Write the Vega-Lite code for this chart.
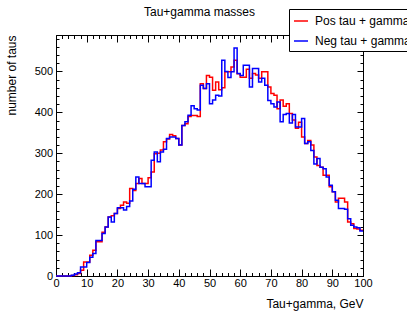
{
 "$schema": "https://vega.github.io/schema/vega-lite/v6.json",
 "width": 307,
 "height": 241,
 "autosize": {"type": "none"},
 "padding": {"left": 56, "top": 35, "right": 44, "bottom": 38},
 "title": {"text": "Tau+gamma masses", "fontSize": 12, "font": "Liberation Sans", "fontWeight": "normal", "anchor": "middle", "dx": -10, "dy": 11, "offset": -8, "baseline": "alphabetic", "color": "black"},
 "config": {
  "view": {"stroke": "black", "strokeWidth": 1},
  "font": "Liberation Sans",
  "axis": {"domain": false, "tickColor": "black", "tickWidth": 1, "labelColor": "black", "labelFontSize": 11, "titleFontSize": 12, "titleFontWeight": "normal", "titleColor": "black", "grid": false, "labelFlush": false, "labelOverlap": false, "labelFont": "Liberation Sans", "titleFont": "Liberation Sans"}
 },
 "data": {"values": [
  {"x":0,"pos":0,"neg":0},{"x":1,"pos":0,"neg":0},{"x":2,"pos":0,"neg":0},{"x":3,"pos":0,"neg":0},{"x":4,"pos":0,"neg":0},
  {"x":5,"pos":1,"neg":2},{"x":6,"pos":3,"neg":5},{"x":7,"pos":6,"neg":8},{"x":8,"pos":14,"neg":22},{"x":9,"pos":34,"neg":22},
  {"x":10,"pos":34,"neg":33},{"x":11,"pos":51,"neg":46},{"x":12,"pos":63,"neg":55},{"x":13,"pos":84,"neg":87},{"x":14,"pos":84,"neg":87},
  {"x":15,"pos":107,"neg":104},{"x":16,"pos":120,"neg":120},{"x":17,"pos":144,"neg":144},{"x":18,"pos":147,"neg":132},{"x":19,"pos":153,"neg":153},
  {"x":20,"pos":165,"neg":167},{"x":21,"pos":173,"neg":167},{"x":22,"pos":181,"neg":161},{"x":23,"pos":178,"neg":170},{"x":24,"pos":214,"neg":183},
  {"x":25,"pos":209,"neg":212},{"x":26,"pos":226,"neg":242},{"x":27,"pos":238,"neg":226},{"x":28,"pos":226,"neg":226},{"x":29,"pos":226,"neg":218},
  {"x":30,"pos":240,"neg":218},{"x":31,"pos":254,"neg":283},{"x":32,"pos":299,"neg":303},{"x":33,"pos":300,"neg":279},{"x":34,"pos":308,"neg":303},
  {"x":35,"pos":328,"neg":310},{"x":36,"pos":335,"neg":336},{"x":37,"pos":346,"neg":340},{"x":38,"pos":343,"neg":340},{"x":39,"pos":336,"neg":336},
  {"x":40,"pos":320,"neg":320},{"x":41,"pos":368,"neg":368},{"x":42,"pos":372,"neg":377},{"x":43,"pos":390,"neg":393},{"x":44,"pos":392,"neg":416},
  {"x":45,"pos":392,"neg":409},{"x":46,"pos":390,"neg":406},{"x":47,"pos":470,"neg":466},{"x":48,"pos":458,"neg":458},{"x":49,"pos":490,"neg":470},
  {"x":50,"pos":486,"neg":421},{"x":51,"pos":454,"neg":430},{"x":52,"pos":474,"neg":442},{"x":53,"pos":455,"neg":440},{"x":54,"pos":460,"neg":527},
  {"x":55,"pos":499,"neg":500},{"x":56,"pos":499,"neg":485},{"x":57,"pos":511,"neg":499},{"x":58,"pos":527,"neg":557},{"x":59,"pos":494,"neg":495},
  {"x":60,"pos":486,"neg":490},{"x":61,"pos":486,"neg":515},{"x":62,"pos":505,"neg":515},{"x":63,"pos":483,"neg":462},{"x":64,"pos":495,"neg":507},
  {"x":65,"pos":491,"neg":507},{"x":66,"pos":483,"neg":474},{"x":67,"pos":499,"neg":483},{"x":68,"pos":499,"neg":466},{"x":69,"pos":462,"neg":429},
  {"x":70,"pos":446,"neg":421},{"x":71,"pos":442,"neg":413},{"x":72,"pos":409,"neg":425},{"x":73,"pos":430,"neg":377},{"x":74,"pos":415,"neg":395},
  {"x":75,"pos":421,"neg":397},{"x":76,"pos":397,"neg":374},{"x":77,"pos":381,"neg":395},{"x":78,"pos":361,"neg":364},{"x":79,"pos":376,"neg":364},
  {"x":80,"pos":340,"neg":385},{"x":81,"pos":324,"neg":324},{"x":82,"pos":331,"neg":328},{"x":83,"pos":320,"neg":307},{"x":84,"pos":291,"neg":274},
  {"x":85,"pos":270,"neg":287},{"x":86,"pos":266,"neg":266},{"x":87,"pos":246,"neg":262},{"x":88,"pos":246,"neg":242},{"x":89,"pos":218,"neg":222},
  {"x":90,"pos":206,"neg":206},{"x":91,"pos":181,"neg":185},{"x":92,"pos":190,"neg":165},{"x":93,"pos":190,"neg":165},{"x":94,"pos":181,"neg":163},
  {"x":95,"pos":132,"neg":140},{"x":96,"pos":128,"neg":124},{"x":97,"pos":116,"neg":120},{"x":98,"pos":115,"neg":118},{"x":99,"pos":112,"neg":110},
  {"x":100,"pos":112,"neg":110}
 ]},
 "layer": [
  {
   "mark": {"type": "line", "interpolate": "step-after", "strokeWidth": 1.5},
   "encoding": {
    "x": {"field": "x", "type": "quantitative", "scale": {"domain": [0, 100], "nice": false},
          "axis": {"orient": "bottom", "values": [0,10,20,30,40,50,60,70,80,90,100], "tickSize": -7, "labelPadding": 8.5, "title": "Tau+gamma, GeV", "titleAnchor": "end", "titlePadding": 10}},
    "y": {"field": "pos", "type": "quantitative", "scale": {"domain": [0, 589], "nice": false},
          "axis": {"orient": "left", "values": [0,100,200,300,400,500], "tickSize": -6, "labelPadding": 9.5, "title": "number of taus", "titleAnchor": "end", "titlePadding": 16}},
    "color": {"datum": "Pos tau + gamma", "type": "nominal",
              "scale": {"domain": ["Pos tau + gamma", "Neg tau + gamma"], "range": ["#ff0000", "#0000ff"]},
              "legend": {"orient": "none", "legendX": 233, "legendY": -26, "title": null, "symbolType": "stroke", "symbolSize": 196, "symbolStrokeWidth": 1.5, "labelFontSize": 12, "labelOffset": 6, "padding": 4, "rowPadding": 6, "strokeColor": "black", "fillColor": "white", "cornerRadius": 0, "labelColor": "black", "labelFont": "Liberation Sans"}}
   }
  },
  {
   "mark": {"type": "line", "interpolate": "step-after", "strokeWidth": 1.5},
   "encoding": {
    "x": {"field": "x", "type": "quantitative", "scale": {"domain": [0, 100], "nice": false},
          "axis": {"orient": "bottom", "values": [0,2,4,6,8,10,12,14,16,18,20,22,24,26,28,30,32,34,36,38,40,42,44,46,48,50,52,54,56,58,60,62,64,66,68,70,72,74,76,78,80,82,84,86,88,90,92,94,96,98,100], "tickSize": -3.5, "labels": false, "title": null}},
    "y": {"field": "neg", "type": "quantitative", "scale": {"domain": [0, 589], "nice": false},
          "axis": {"orient": "left", "values": [0,20,40,60,80,100,120,140,160,180,200,220,240,260,280,300,320,340,360,380,400,420,440,460,480,500,520,540,560,580], "tickSize": -3, "labels": false, "title": null}},
    "color": {"datum": "Neg tau + gamma", "type": "nominal"}
   }
  },
  {
   "mark": {"type": "point", "opacity": 0},
   "encoding": {
    "x": {"field": "x", "type": "quantitative", "scale": {"domain": [0, 100], "nice": false},
          "axis": {"orient": "top", "values": [0,10,20,30,40,50,60,70,80,90,100], "tickSize": -7, "labels": false, "title": null}},
    "y": {"field": "pos", "type": "quantitative", "scale": {"domain": [0, 589], "nice": false},
          "axis": {"orient": "right", "values": [0,100,200,300,400,500], "tickSize": -6, "labels": false, "title": null}}
   }
  },
  {
   "mark": {"type": "point", "opacity": 0},
   "encoding": {
    "x": {"field": "x", "type": "quantitative", "scale": {"domain": [0, 100], "nice": false},
          "axis": {"orient": "top", "values": [0,2,4,6,8,10,12,14,16,18,20,22,24,26,28,30,32,34,36,38,40,42,44,46,48,50,52,54,56,58,60,62,64,66,68,70,72,74,76,78,80,82,84,86,88,90,92,94,96,98,100], "tickSize": -3.5, "labels": false, "title": null}},
    "y": {"field": "neg", "type": "quantitative", "scale": {"domain": [0, 589], "nice": false},
          "axis": {"orient": "right", "values": [0,20,40,60,80,100,120,140,160,180,200,220,240,260,280,300,320,340,360,380,400,420,440,460,480,500,520,540,560,580], "tickSize": -3, "labels": false, "title": null}}
   }
  }
 ],
 "resolve": {"axis": {"x": "independent", "y": "independent"}}
}
